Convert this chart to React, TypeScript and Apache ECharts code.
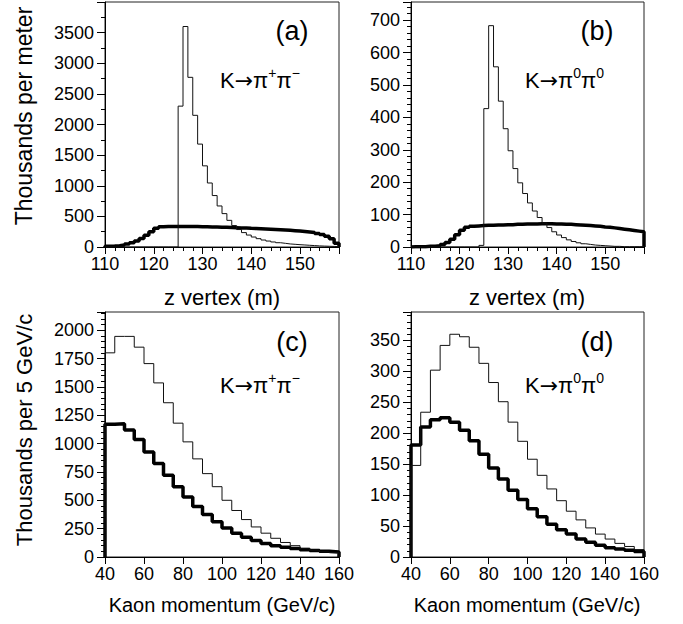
import React, { useEffect, useRef } from "react";
import * as echarts from "echarts";

// ---- data ----
const zStart = 110; // m, first bin edge
const zBin = 1; // m
const pStart = 40; // GeV/c
const pBin = 5; // GeV/c

// (a) K -> pi+ pi-, z vertex, bins 110..157
const zThinCharged = [
  0, 0, 0, 0, 0, 0, 0, 0, 0, 0, 0, 0, 0, 0, 0,
  2300, 3600, 2770, 2150, 1680, 1325, 1045, 840, 670, 545,
  435, 350, 285, 235, 195, 163, 136, 114, 97, 82,
  70, 60, 50, 44, 38, 33, 28, 23, 18, 15, 12, 9, 6,
];
const zThickCharged = [
  12, 16, 22, 32, 48, 70, 100, 140, 190, 250,
  305, 330, 335, 335, 335, 335, 335, 334, 333, 332,
  330, 328, 326, 324, 321, 318, 315, 312, 309, 305,
  302, 298, 294, 290, 286, 282, 277, 272, 267, 261,
  254, 246, 236, 222, 203, 175, 135, 60,
];
// (b) K -> pi0 pi0, z vertex
const zThinNeutral = [
  0, 0, 0, 0, 0, 0, 0, 0, 0, 0, 0, 0, 0, 0, 5,
  427, 683, 556, 450, 365, 297, 242, 198, 165, 136,
  111, 91, 74, 60, 47, 37, 29, 22, 17, 13,
  10, 8, 6, 5, 4, 3, 2, 2, 1, 1, 1, 1, 1,
];
const zThickNeutral = [
  1, 1, 1, 2, 2, 4, 8, 14, 24, 38,
  52, 61, 64, 65, 66, 67, 67, 68, 68, 69,
  69, 70, 70, 71, 71, 71, 72, 72, 72, 71,
  71, 70, 70, 69, 68, 67, 66, 65, 64, 62,
  61, 59, 57, 55, 53, 51, 49, 47,
];
// (c) K -> pi+ pi-, momentum bins 40..155
const pThinCharged = [
  1800, 1945, 1945, 1850, 1705, 1535, 1360, 1180, 1015, 865,
  735, 620, 500, 410, 330, 265, 210, 165, 128, 100, 78, 60, 45, 38,
];
const pThickCharged = [
  1170, 1175, 1120, 1035, 925, 825, 720, 620, 530, 445,
  375, 310, 255, 210, 175, 145, 120, 100, 85, 75, 65, 57, 50, 45,
];
// (d) K -> pi0 pi0, momentum
const pThinNeutral = [
  148, 234, 302, 342, 360, 356, 339, 313, 282, 251,
  218, 187, 158, 132, 110, 91, 74, 60, 47, 37, 29, 22, 17, 12,
];
const pThickNeutral = [
  181, 210, 222, 225, 218, 205, 188, 166, 144, 126,
  108, 93, 78, 65, 53, 44, 37, 29, 24, 19, 15, 13, 11, 9,
];

const zTitle = "z vertex (m)";
const pTitle = "Kaon momentum (GeV/c)";
const yTitleTop = "Thousands per meter";
const yTitleBottom = "Thousands per 5 GeV/c";
const panelTags = ["(a)", "(b)", "(c)", "(d)"];

// ---- helpers ----
function histPoints(start: number, width: number, values: number[]) {
  const pts: [number, number][] = [[start, 0]];
  values.forEach((v, i) => {
    pts.push([start + i * width, v]);
    pts.push([start + (i + 1) * width, v]);
  });
  pts.push([start + values.length * width, 0]);
  return pts;
}

const FONT = '"Liberation Sans", Arial, Helvetica, sans-serif';
const plain = (v: number) => String(v);

function xAxisCfg(gridIndex: number, min: number, max: number, interval: number, minor: number, showMax: boolean) {
  return {
    type: "value",
    gridIndex,
    min,
    max,
    interval,
    axisLine: { show: true, onZero: false, lineStyle: { color: "#000", width: 1 } },
    axisTick: { show: true, inside: false, length: 7, lineStyle: { color: "#000", width: 1 } },
    minorTick: { show: minor > 0, splitNumber: Math.max(minor, 1), length: 4, lineStyle: { color: "#000", width: 1 } },
    splitLine: { show: false },
    minorSplitLine: { show: false },
    axisLabel: { color: "#000", fontSize: 18, fontFamily: FONT, margin: 8, showMaxLabel: showMax, showMinLabel: true, formatter: plain },
  };
}

function yAxisCfg(gridIndex: number, max: number, interval: number, minor: number) {
  return {
    type: "value",
    gridIndex,
    min: 0,
    max,
    interval,
    axisLine: { show: true, lineStyle: { color: "#000", width: 1 } },
    axisTick: { show: true, inside: false, length: 8, lineStyle: { color: "#000", width: 1 } },
    minorTick: { show: true, splitNumber: minor, length: 4, lineStyle: { color: "#000", width: 1 } },
    splitLine: { show: false },
    minorSplitLine: { show: false },
    axisLabel: { color: "#000", fontSize: 18, fontFamily: FONT, margin: 11, showMaxLabel: false, showMinLabel: true, formatter: plain },
  };
}

function lineSeries(idx: number, data: [number, number][], thick: boolean) {
  return {
    type: "line",
    xAxisIndex: idx,
    yAxisIndex: idx,
    data,
    showSymbol: false,
    symbol: "none",
    lineStyle: { color: thick ? "#000" : "#111", width: thick ? 3.5 : 1 },
    z: thick ? 2 : 3,
    silent: true,
  };
}

function reactionText(x: number, y: number, sup1: string, sup2: string) {
  return {
    type: "text",
    x,
    y,
    style: {
      text: `{a|K}{r|→}{a|π}{s|${sup1}}{a|π}{s|${sup2}}`,
      fill: "#000",
      verticalAlign: "middle",
      align: "left",
      rich: {
        a: { fontSize: 22, fontFamily: FONT, lineHeight: 24, verticalAlign: "middle", fill: "#000" },
        r: { fontSize: 22, fontFamily: '"DejaVu Sans", sans-serif', lineHeight: 24, verticalAlign: "middle", fill: "#000" },
        s: { fontSize: 14, fontFamily: FONT, lineHeight: 14, padding: [0, 0, 14, 0], verticalAlign: "middle", fill: "#000" },
      },
    },
  };
}

function plainText(x: number, y: number, text: string, size: number, rotate = 0) {
  return {
    type: "text",
    x,
    y,
    rotation: rotate,
    style: { text, fontSize: size, fontFamily: FONT, fill: "#000", align: "center", verticalAlign: "middle" },
  };
}

export default function App() {
  const ref = useRef<HTMLDivElement>(null);
  useEffect(() => {
    document.body.style.margin = "0";
    const chart = echarts.init(ref.current!, undefined, { renderer: "svg" });
    const gridBase = { show: true, borderColor: "#222", borderWidth: 1, backgroundColor: "transparent", containLabel: false };
    chart.setOption({
      animation: false,
      grid: [
        { ...gridBase, left: 105, top: 2, width: 234, height: 245 },
        { ...gridBase, left: 411, top: 2, width: 233, height: 245 },
        { ...gridBase, left: 105, top: 312, width: 234, height: 245 },
        { ...gridBase, left: 411, top: 312, width: 233, height: 245 },
      ],
      xAxis: [
        xAxisCfg(0, 110, 158, 10, 5, false),
        xAxisCfg(1, 110, 158, 10, 5, false),
        xAxisCfg(2, 40, 160, 20, 0, true),
        xAxisCfg(3, 40, 160, 20, 0, true),
      ],
      yAxis: [
        yAxisCfg(0, 4000, 500, 2),
        yAxisCfg(1, 756, 100, 5),
        yAxisCfg(2, 2160, 250, 5),
        yAxisCfg(3, 396, 50, 5),
      ],
      series: [
        lineSeries(0, histPoints(zStart, zBin, zThickCharged), true),
        lineSeries(0, histPoints(zStart, zBin, zThinCharged), false),
        lineSeries(1, histPoints(zStart, zBin, zThickNeutral), true),
        lineSeries(1, histPoints(zStart, zBin, zThinNeutral), false),
        lineSeries(2, histPoints(pStart, pBin, pThickCharged), true),
        lineSeries(2, histPoints(pStart, pBin, pThinCharged), false),
        lineSeries(3, histPoints(pStart, pBin, pThickNeutral), true),
        lineSeries(3, histPoints(pStart, pBin, pThinNeutral), false),
      ],
      graphic: [
        plainText(24, 116, yTitleTop, 23, Math.PI / 2),
        plainText(24, 430, yTitleBottom, 22, Math.PI / 2),
        plainText(222, 297, zTitle, 22),
        plainText(527, 297, zTitle, 22),
        plainText(222, 605, pTitle, 20),
        plainText(527, 605, pTitle, 20),
        plainText(292, 31, panelTags[0], 27),
        plainText(597, 31, panelTags[1], 27),
        plainText(292, 342, panelTags[2], 27),
        plainText(597, 342, panelTags[3], 27),
        reactionText(220, 80, "+", "−"),
        reactionText(525, 80, "0", "0"),
        reactionText(220, 385, "+", "−"),
        reactionText(525, 385, "0", "0"),
      ],
    });
    return () => chart.dispose();
  }, []);
  return <div ref={ref} style={{ width: 683, height: 624 }} />;
}
